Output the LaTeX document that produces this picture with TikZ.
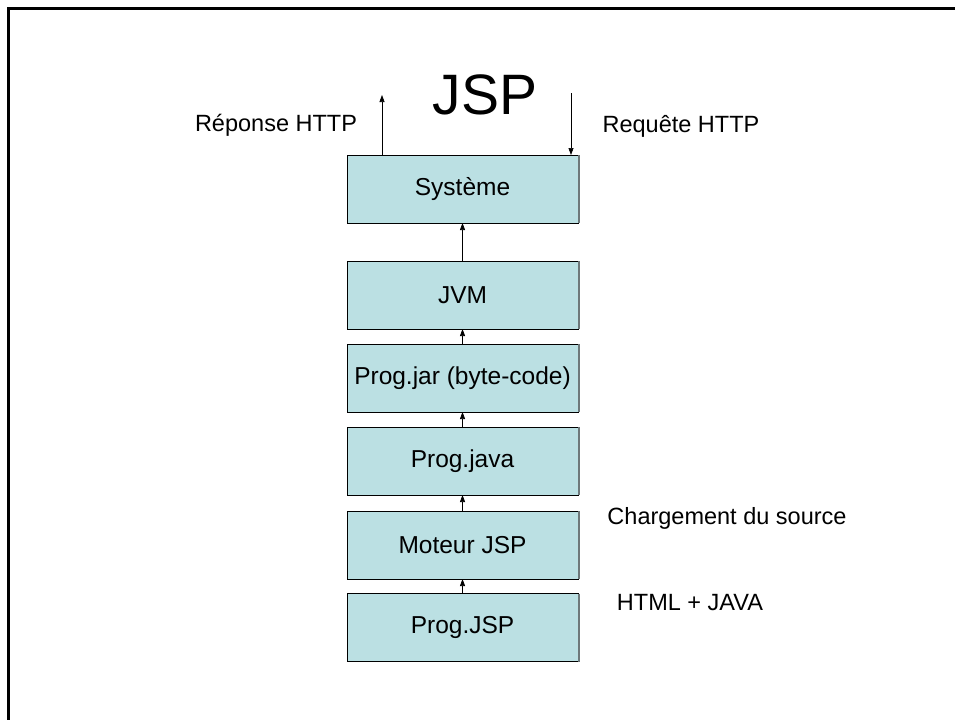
\documentclass[tikz,border=0pt]{standalone}
\usepackage{fontspec}
\setmainfont{Liberation Sans}
\usetikzlibrary{arrows.meta}
\definecolor{boxcol}{RGB}{187,224,227}
\definecolor{shadowcol}{RGB}{110,120,122}
\tikzset{
  layer/.style={rectangle, fill=boxcol, draw=black, line width=0.8pt,
    minimum width=231pt, minimum height=68pt, inner sep=0pt, outer sep=0pt,
    font=\fontsize{24.5}{27}\selectfont},
  lbl/.style={font=\fontsize{23.5}{26}\selectfont, inner sep=0pt},
  arr/.style={draw=black, line width=0.7pt, -{Triangle[length=7pt,width=5pt]}}
}
\begin{document}
\begin{tikzpicture}[x=1pt,y=-1pt]
\useasboundingbox (0,0) rectangle (955,720);
\fill[white] (0,0) rectangle (955,720);
% frame (top and left edges)
\draw[line width=3pt, black] (955,8.5) -- (8.5,8.5) -- (8.5,720);

% layers
\node[layer] (sys) at (462.5,189) {Système};
\node[layer] (jvm) at (462.5,295) {JVM};
\node[layer] (jar) at (462.5,378) {Prog.jar (byte-code)};
\node[layer] (java) at (462.5,461) {Prog.java};
\node[layer] (mot) at (462.5,545) {Moteur JSP};
\node[layer] (jsp) at (462.5,627.5) {Prog.JSP};

% right-edge shadow
\foreach \n in {sys,jvm,jar,java,mot,jsp}{
  \draw[shadowcol, line width=1.6pt] ([xshift=0.9pt]\n.north east) -- ([xshift=0.9pt]\n.south east);
}

% stack arrows
\draw[arr] (jvm.north) -- (sys.south);
\draw[arr] (jar.north) -- (jvm.south);
\draw[arr] (java.north) -- (jar.south);
\draw[arr] (mot.north) -- (java.south);
\draw[arr] (jsp.north) -- (mot.south);

% HTTP arrows
\coordinate (repTop) at (382,95);
\coordinate (reqTop) at (571,93);
\draw[arr] (sys.north -| repTop) -- (repTop);
\draw[arr] (reqTop) -- (reqTop |- sys.north);

% labels
\node[inner sep=0pt, font=\fontsize{57}{60}\selectfont] (title) at (485,95) {JSP};
\node[lbl] (rep) at (276,125) {Réponse HTTP};
\node[lbl] (req) at (681,126) {Requête HTTP};
\node[lbl] (charg) at (727,518) {Chargement du source};
\node[lbl] (html) at (690,603) {HTML + JAVA};
\end{tikzpicture}
\end{document}
